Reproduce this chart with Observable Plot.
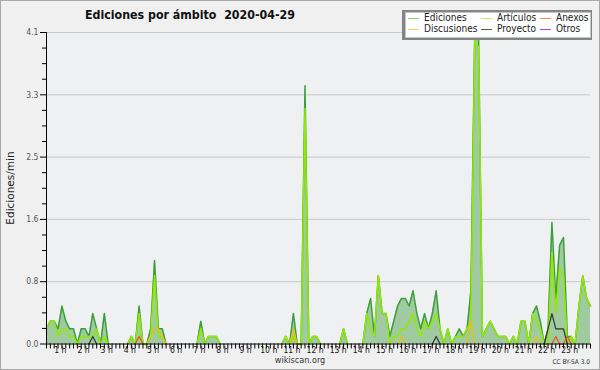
<!DOCTYPE html>
<html><head><meta charset="utf-8">
<script src="https://cdn.jsdelivr.net/npm/d3@7"></script>
<script src="https://cdn.jsdelivr.net/npm/@observablehq/plot@0.6"></script>
<style>
html,body{margin:0;padding:0;background:#f0f0f0;}
#wrap{position:relative;width:600px;height:370px;overflow:hidden;background:#f0f0f0;font-family:"DejaVu Sans Condensed","DejaVu Sans",sans-serif;color:#222;}
#wrap svg{position:absolute;left:0;top:0;}
.abs{position:absolute;white-space:nowrap;line-height:1;}
#border{position:absolute;left:0;top:0;width:598px;height:368px;border:1px solid #a8a8a8;pointer-events:none;}
</style></head>
<body><div id="wrap"></div>
<script>
// ---- data: edits per minute, 10-minute bins ----
const startHour = 0.4;      // time of the first visible bin (hours)
const binHours = 1 / 6;     // 10 minutes
const hourTicks = d3.range(1, 24);
const yMajor = [0, 0.82, 1.64, 2.46, 3.28, 4.1];

const ediciones = [
0.2,0.3,0.3,0.2,0.5,0.3,0.2,0.2,0,0.2, 0.2,0.1,0.4,0.2,0,0.4,0,0,0,0,
0,0,0.1,0,0.5,0,0,0.2,1.1,0.2, 0.2,0,0,0,0,0,0,0,0,0,
0.3,0,0.1,0.1,0.1,0,0,0,0,0, 0,0,0,0,0,0,0,0,0,0,
0,0,0.1,0,0.4,0,0,3.4,0,0.1, 0.1,0,0,0,0,0,0,0.2,0,0,
0,0,0,0.4,0.6,0.1,0.9,0.4,0.4,0.1, 0.3,0.5,0.6,0.6,0.5,0.7,0.4,0.2,0.4,0.2,
0.4,0.7,0.2,0,0.2,0,0.1,0.2,0.1,0.2, 0.7,4.1,4.0,0.1,0.2,0.3,0.2,0.1,0.1,0.1,
0,0.1,0,0.3,0.3,0,0.4,0.5,0.3,0, 0.2,1.6,0.6,1.3,1.4,0.1,0.1,0,0.5,0.9,
0.6,0.5];
const articulos = [
0.2,0.3,0.3,0.1,0.2,0.2,0.1,0.1,0,0.1, 0.1,0.1,0.1,0.2,0,0.1,0,0,0,0,
0,0,0.1,0,0.4,0,0,0.1,0.9,0.1, 0.1,0,0,0,0,0,0,0,0,0,
0.2,0,0.1,0.1,0.1,0,0,0,0,0, 0,0,0,0,0,0,0,0,0,0,
0,0,0.1,0,0.1,0,0,3.1,0,0.1, 0.1,0,0,0,0,0,0,0.2,0,0,
0,0,0,0.4,0.2,0.1,0.9,0.4,0.4,0, 0.1,0.1,0.2,0.2,0.3,0.4,0.2,0.1,0.3,0.2,
0.3,0.4,0.2,0,0.2,0,0.1,0.1,0.1,0.2, 0.3,4.0,3.9,0.1,0.2,0.3,0.2,0.1,0.1,0.1,
0,0.1,0,0.3,0.3,0,0.4,0.3,0.2,0, 0,1.2,0.4,1.0,0.9,0,0.1,0,0.5,0.9,
0.6,0.5];
const discusiones = [
0,0,0,0,0,0,0,0,0,0, 0,0,0,0,0,0,0,0,0,0,
0,0,0,0,0,0,0,0.1,0.2,0.2, 0.1,0,0,0,0,0,0,0,0,0,
0,0,0,0,0,0,0,0,0,0, 0,0,0,0,0,0,0,0,0,0,
0,0,0,0,0.2,0,0,0,0,0, 0,0,0,0,0,0,0,0,0,0,
0,0,0,0,0,0,0,0,0,0, 0,0,0.1,0,0,0,0,0,0,0,
0,0,0,0,0,0,0,0,0,0, 0.3,0,0,0,0,0,0,0,0,0,
0,0,0,0,0,0,0,0.1,0,0, 0,0,0,0,0,0,0,0,0,0,
0,0];
const anexos = [
0,0,0,0,0,0,0,0,0,0, 0,0,0,0,0,0,0,0,0,0,
0,0,0,0,0.1,0,0,0,0,0, 0,0,0,0,0,0,0,0,0,0,
0,0,0,0,0,0,0,0,0,0, 0,0,0,0,0,0,0,0,0,0,
0,0,0,0,0,0,0,0,0,0, 0,0,0,0,0,0,0,0,0,0,
0,0,0,0,0,0,0,0,0,0, 0,0,0,0,0,0,0,0,0,0,
0,0,0,0,0,0,0,0,0,0, 0,0,0,0,0,0,0,0,0,0,
0,0,0,0,0,0,0,0,0,0, 0,0,0.1,0,0,0.1,0,0,0,0,
0,0];
const proyecto = [
0,0,0,0,0,0,0,0,0,0, 0,0,0.1,0,0,0,0,0,0,0,
0,0,0,0,0,0,0,0,0,0, 0,0,0,0,0,0,0,0,0,0,
0,0,0,0,0,0,0,0,0,0, 0,0,0,0,0,0,0,0,0,0,
0,0,0,0,0,0,0,0,0,0, 0,0,0,0,0,0,0,0,0,0,
0,0,0,0,0,0,0,0,0,0, 0,0,0,0,0,0,0,0,0,0,
0,0.1,0,0,0,0,0,0,0,0, 0,0,0,0,0,0,0,0,0,0,
0,0,0,0,0,0,0,0,0,0, 0.2,0.4,0.2,0.2,0.2,0,0,0,0,0,
0,0];
const otros = new Array(ediciones.length).fill(0);

const legendItems = [
  {name: "Ediciones", color: "#86d486"},
  {name: "Artículos", color: "#c6ee5a"},
  {name: "Anexos", color: "#f08a5c"},
  {name: "Discusiones", color: "#f6d04e"},
  {name: "Proyecto", color: "#555555"},
  {name: "Otros", color: "#9a4ee6"}
];

// ---- build ----
const n = ediciones.length;
const times = d3.range(n).map(i => startHour + i * binHours);
// hide runs of zeros so flat zero segments do not paint over the baseline
const gapped = arr => arr.map((v, i) =>
  (v === 0 && (arr[i - 1] ?? 0) === 0 && (arr[i + 1] ?? 0) === 0) ? NaN : v);
const yMinor = d3.range(0, 4.1 + 1e-9, 0.205).filter(v => !yMajor.some(m => Math.abs(m - v) < 1e-6));

const lineOf = (arr, stroke, w) => Plot.line(gapped(arr), {x: times, y: d => d, stroke, strokeWidth: w, curve: "linear"});

const chart = Plot.plot({
  width: 600, height: 370,
  marginLeft: 46, marginRight: 10, marginTop: 32, marginBottom: 26.5,
  style: {background: "transparent", fontFamily: "'DejaVu Sans Condensed','DejaVu Sans',sans-serif", overflow: "visible"},
  x: {domain: [times[0], times[n - 1]], axis: null},
  y: {domain: [0, 4.1], axis: null},
  marks: [
    Plot.frame({fill: "#eef0f2", stroke: null}),
    Plot.ruleY(yMajor.slice(1), {stroke: "#c9c9c9", strokeWidth: 1}),
    Plot.areaY(ediciones, {x: times, y: d => d, fill: "#a0caa0", curve: "linear"}),
    lineOf(ediciones, "#3c9f3c", 1.5),
    lineOf(articulos, "#92ea00", 1.5),
    lineOf(otros, "#9040e0", 1.2),
    lineOf(proyecto, "#333333", 1.2),
    lineOf(discusiones, "#f0c000", 1.2),
    lineOf(anexos, "#f05020", 1.2),
    Plot.axisY({ticks: yMinor, tickFormat: () => "", tickSize: 4, label: null, stroke: "#000"}),
    Plot.axisY({ticks: yMajor, tickFormat: d3.format(".1f"), tickSize: 6, tickPadding: 2, fontSize: 8.5, fill: "#555", stroke: "#000", label: null}),
    Plot.axisX({ticks: times, tickFormat: () => "", tickSize: 5, label: null, stroke: "#000"}),
    Plot.axisX({ticks: hourTicks, tickFormat: d => d + " h", tickSize: 0, tickPadding: 3, fontSize: 8.5, fill: "#111", label: null}),
    Plot.ruleX([times[0]], {stroke: "#000", strokeWidth: 1}),
    Plot.ruleY([0], {stroke: "#000", strokeWidth: 1})
  ]
});

const wrap = document.getElementById("wrap");
wrap.appendChild(chart);

function addText(txt, css) {
  const d = document.createElement("div");
  d.className = "abs";
  d.textContent = txt;
  Object.assign(d.style, css);
  wrap.appendChild(d);
  return d;
}
addText("Ediciones por ámbito  2020-04-29", {left: "85px", top: "9px", fontSize: "12.3px", fontWeight: "bold", color: "#111", whiteSpace: "pre"});
addText("Ediciones/min", {left: "9.5px", top: "188px", fontSize: "10.5px", fontFamily: "'DejaVu Sans',sans-serif", color: "#222", transform: "translate(-50%,-50%) rotate(-90deg)"});
addText("wikiscan.org", {left: "300px", top: "356px", fontSize: "9px", color: "#333", transform: "translateX(-50%)"});
addText("CC BY-SA 3.0", {right: "10px", top: "359px", fontSize: "6.5px", color: "#333"});

// legend
const shadow = document.createElement("div");
Object.assign(shadow.style, {position: "absolute", left: "402px", top: "10px", width: "190px", height: "30px", background: "#858585"});
wrap.appendChild(shadow);
const box = document.createElement("div");
Object.assign(box.style, {position: "absolute", left: "405px", top: "12px", width: "184px", height: "24px", background: "#ffffff", border: "1px solid #c4c4c4"});
wrap.appendChild(box);
const colX = [408, 481, 540];
const rowY = [18.5, 29.5];
legendItems.forEach((it, k) => {
  const c = k % 3, r = Math.floor(k / 3);
  const sw = document.createElement("div");
  Object.assign(sw.style, {position: "absolute", left: colX[c] + "px", top: (rowY[r] - 0.75) + "px", width: "11px", height: "1.5px", background: it.color});
  wrap.appendChild(sw);
  addText(it.name, {left: (colX[c] + 16) + "px", top: (rowY[r] - 6) + "px", fontSize: "10px", color: "#222"});
});

const border = document.createElement("div");
border.id = "border";
wrap.appendChild(border);
</script>
</body></html>
